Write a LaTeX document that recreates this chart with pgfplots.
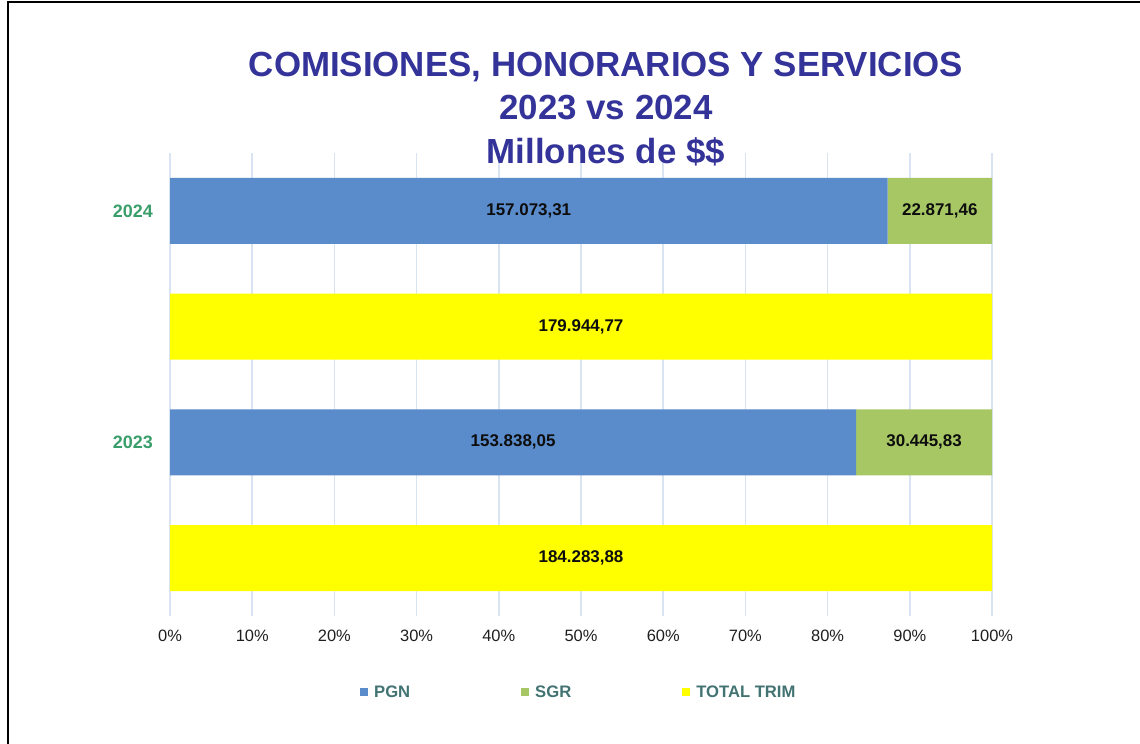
\documentclass[border=0pt]{standalone}
\usepackage{fontspec}
\setmainfont{Liberation Sans}
\usepackage{pgfplots}
\usepackage{pgfplotstable}
\pgfplotsset{compat=1.18}
\definecolor{pgnblue}{HTML}{5A8BCA}
\definecolor{sgrgreen}{HTML}{A7C764}
\definecolor{trimyellow}{HTML}{FFFF00}
\definecolor{titleblue}{HTML}{333399}
\definecolor{yeargreen}{HTML}{3A9E6B}
\definecolor{legendteal}{HTML}{427272}
\definecolor{gridblue}{HTML}{D9E4F3}

% percent stacked bars: each row is one bar
\pgfplotstableread{
pos pgn       sgr      trim
3   157073.31 22871.46 0
2   0         0        179944.77
1   153838.05 30445.83 0
0   0         0        184283.88
}\bars

% value labels, placed in the middle of each segment
\pgfplotstableread{
pos base      val       total     lab
3   0         157073.31 179944.77 157.073,31
3   157073.31 22871.46  179944.77 22.871,46
2   0         179944.77 179944.77 179.944,77
1   0         153838.05 184283.88 153.838,05
1   153838.05 30445.83  184283.88 30.445,83
0   0         184283.88 184283.88 184.283,88
}\labels

\pgfplotsset{
  chartbox/.style={
    width=822bp, height=463bp, scale only axis,
    xmin=0, xmax=100, ymin=-0.5, ymax=3.5,
    at={(170bp,128bp)}, anchor=south west,
  },
}

\begin{document}
\begin{tikzpicture}
\useasboundingbox (0bp,0bp) rectangle (1140bp,744bp);
\draw[line width=2bp] (7.5bp,0bp) -- (7.5bp,741.5bp) -- (1140bp,741.5bp);

\begin{axis}[
    chartbox,
    xbar stacked,
    bar width=66bp,
    bar shift=0pt,
    axis line style={draw=none},
    major tick length=0pt,
    xtick={0,10,...,100},
    xticklabel={\pgfmathprintnumber{\tick}\%},
    /pgf/number format/assume math mode=true,
    xticklabel style={anchor=center, yshift=-20bp, font=\fontsize{16.5}{19}\selectfont, text=black!88},
    ytick={1,3},
    yticklabels={2023,2024},
    yticklabel style={anchor=east, inner sep=0pt, xshift=-17bp, font=\fontsize{18}{21}\selectfont\bfseries, text=yeargreen},
    xmajorgrids,
    grid style={gridblue, line width=1.5bp},
    title={COMISIONES, HONORARIOS Y SERVICIOS\\2023 vs 2024\\Millones de \$\$},
    title style={at={(0.5304,1)}, anchor=north, yshift=95bp, inner sep=0pt, align=center,
      font=\fontsize{35}{43.5}\selectfont\bfseries, text=titleblue},
    legend columns=3,
    legend style={at={(0.2311,-0.165)}, anchor=west, draw=none, fill=none, inner sep=0pt,
      font=\fontsize{16.7}{19}\selectfont\bfseries, text=legendteal,
      nodes={inner sep=2bp},
      /tikz/every even column/.append style={column sep=109bp}},
    legend cell align=left,
    legend image code/.code={\fill[#1] (0bp,-4bp) rectangle (8bp,4bp); \path (12bp,0bp);},
]
\addplot[fill=pgnblue, draw=none] table[y=pos, x expr=\thisrow{pgn}/(\thisrow{pgn}+\thisrow{sgr}+\thisrow{trim})*100]{\bars};
\addlegendentry{PGN}
\addplot[fill=sgrgreen, draw=none] table[y=pos, x expr=\thisrow{sgr}/(\thisrow{pgn}+\thisrow{sgr}+\thisrow{trim})*100]{\bars};
\addlegendentry{SGR}
\addplot[fill=trimyellow, draw=none] table[y=pos, x expr=\thisrow{trim}/(\thisrow{pgn}+\thisrow{sgr}+\thisrow{trim})*100]{\bars};
\addlegendentry{TOTAL TRIM}
\end{axis}

\begin{axis}[chartbox, hide axis]
\addplot[only marks, mark=none, nodes near coords, point meta=explicit symbolic,
  nodes near coords style={anchor=center, inner sep=0pt, font=\fontsize{17}{20}\selectfont\bfseries, text=black!95}]
  table[y=pos, x expr=(\thisrow{base}+\thisrow{val}/2)/\thisrow{total}*100, meta=lab]{\labels};
\end{axis}
\end{tikzpicture}
\end{document}
